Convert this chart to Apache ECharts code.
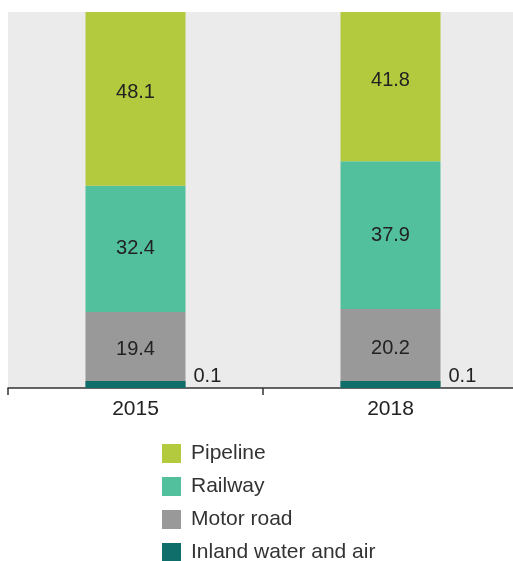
<!DOCTYPE html>
<html>
<head>
<meta charset="utf-8">
<script src="https://cdn.jsdelivr.net/npm/echarts@6/dist/echarts.min.js"></script>
<style>
  html, body { margin: 0; padding: 0; background: #fff; }
  #chart { width: 513px; height: 561px; }
</style>
</head>
<body>
<div id="chart"></div>
<script>
// data (per cent)
var years = ["2015", "2018"];
var pipeline = [48.1, 41.8];
var railway = [32.4, 37.9];
var motorRoad = [19.4, 20.2];
var inlandWaterAir = [0.1, 0.1];

var font = "Liberation Sans, Arial, sans-serif";

function segment(name, data, color, labelOffset) {
  return {
    name: name,
    type: "bar",
    stack: "total",
    barWidth: 100,
    data: data,
    itemStyle: { color: color },
    label: {
      show: true,
      position: "inside",
      offset: labelOffset || [0, 0],
      color: "#222",
      fontSize: 20,
      fontFamily: font
    }
  };
}

var chart = echarts.init(document.getElementById("chart"));

var option = {
  animation: false,
  grid: {
    left: 8,
    width: 510,
    top: 12,
    bottom: 173,
    outerBoundsMode: "none",
    containLabel: false,
    show: true,
    backgroundColor: "#ebebeb",
    borderWidth: 0
  },
  legend: {
    orient: "vertical",
    left: 162,
    top: 443,
    height: 160,
    padding: 0,
    itemWidth: 19,
    itemHeight: 19,
    itemGap: 12,
    icon: "rect",
    data: ["Pipeline", "Railway", "Motor road", "Inland water and air"],
    textStyle: {
      fontSize: 21,
      color: "#333",
      fontFamily: font,
      padding: [0, 0, 0, 5]
    }
  },
  xAxis: {
    type: "category",
    data: years,
    axisLine: { lineStyle: { color: "#333", width: 1.5 } },
    axisTick: { show: true, length: 7, lineStyle: { color: "#333", width: 1.5 } },
    axisLabel: { fontSize: 21, color: "#222", fontFamily: font, margin: 11 }
  },
  yAxis: {
    type: "value",
    min: 0,
    max: 96.5,
    show: false,
    splitLine: { show: false }
  },
  series: [
    {
      name: "Inland water and air",
      type: "bar",
      stack: "total",
      barWidth: 100,
      barMinHeight: 7,
      z: 3,
      data: inlandWaterAir,
      itemStyle: { color: "#0f6e6a" },
      label: {
        show: true,
        position: "right",
        distance: 8,
        offset: [0, -8],
        color: "#222",
        fontSize: 20,
        fontFamily: font
      }
    },
    segment("Motor road", motorRoad, "#999999"),
    segment("Railway", railway, "#52c09c"),
    segment("Pipeline", pipeline, "#b3ca3e", [0, -6])
  ]
};

chart.setOption(option);
</script>
</body>
</html>
